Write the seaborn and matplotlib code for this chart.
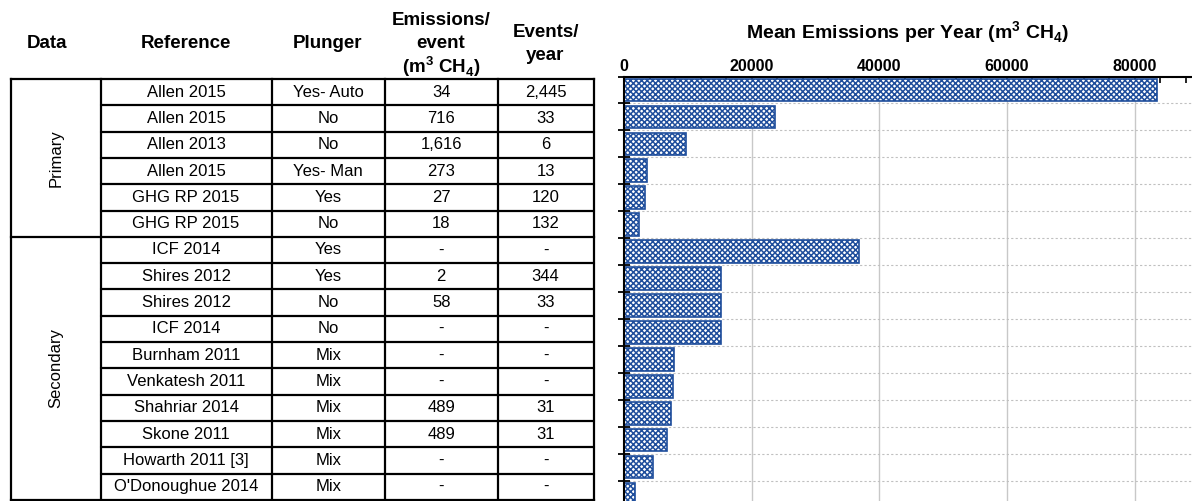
import numpy as np
import pandas as pd
import matplotlib
matplotlib.use("Agg")
import matplotlib.pyplot as plt
from matplotlib.ticker import MultipleLocator, FixedLocator
import seaborn as sns

# table contents
data_groups = ["Primary", "Secondary"]
group_sizes = [6, 10]
references = ["Allen 2015", "Allen 2015", "Allen 2013", "Allen 2015", "GHG RP 2015", "GHG RP 2015",
              "ICF 2014", "Shires 2012", "Shires 2012", "ICF 2014", "Burnham 2011", "Venkatesh 2011",
              "Shahriar 2014", "Skone 2011", "Howarth 2011 [3]", "O'Donoughue 2014"]
plungers = ["Yes- Auto", "No", "No", "Yes- Man", "Yes", "No",
            "Yes", "Yes", "No", "No", "Mix", "Mix", "Mix", "Mix", "Mix", "Mix"]
emis_per_event = ["34", "716", "1,616", "273", "27", "18",
                  "-", "2", "58", "-", "-", "-", "489", "489", "-", "-"]
events_per_year = ["2,445", "33", "6", "13", "120", "132",
                   "-", "344", "33", "-", "-", "-", "31", "31", "-", "-"]

# bar values (m3 CH4 per year)
mean_emis_year = [83500, 23600, 9650, 3600, 3250, 2400,
                  36900, 15250, 15150, 15150, 7900, 7700, 7400, 6800, 4600, 1800]

sns.set_style("white")
plt.rcParams['font.family'] = ['Liberation Sans', 'DejaVu Sans']
plt.rcParams['mathtext.fontset'] = 'custom'
plt.rcParams['mathtext.rm'] = 'Liberation Sans'
plt.rcParams['mathtext.bf'] = 'Liberation Sans:bold'
plt.rcParams['hatch.linewidth'] = 1.1
for k in ['text.color', 'axes.labelcolor', 'xtick.color', 'ytick.color']:
    plt.rcParams[k] = 'black'

W, H = 1192, 501
fig = plt.figure(figsize=(W / 100, H / 100), dpi=100)

# ---- table drawn in pixel coordinates ----
tab = fig.add_axes([0, 0, 1, 1])
tab.set_xlim(0, W)
tab.set_ylim(H, 0)
tab.axis('off')

col_x = [11, 100.5, 271.5, 385, 497.5, 593.5]
top, pitch = 79, 26.3
n_rows = len(references)
bottom = top + pitch * n_rows
lw = 1.6

for x in col_x:
    tab.plot([x, x], [top, bottom], color='black', lw=lw, solid_capstyle='projecting')
# full-width lines: top, group split, bottom
split = top + pitch * group_sizes[0]
for y in [top, split, bottom]:
    tab.plot([col_x[0], col_x[-1]], [y, y], color='black', lw=lw, solid_capstyle='projecting')
for i in range(1, n_rows):
    if i == group_sizes[0]:
        continue
    y = top + pitch * i
    tab.plot([col_x[1], col_x[-1]], [y, y], color='black', lw=lw)

# headers
hdr = dict(ha='center', va='center', fontsize=13.5, fontweight='bold')
tab.text(47, 43, "Data", **hdr)
tab.text(186, 43, "Reference", **hdr)
tab.text(328, 43, "Plunger", **hdr)
tab.text(441, 20, "Emissions/", **hdr)
tab.text(441, 43, "event", **hdr)
tab.text(441, 67, r"(m$^{\mathbf{3}}$ CH$_{\mathbf{4}}$)", **hdr)
tab.text(545.5, 32, "Events/", **hdr)
tab.text(545.5, 55, "year", **hdr)

# body
body = dict(ha='center', va='center', fontsize=12)
centers = [(col_x[1] + col_x[2]) / 2, (col_x[2] + col_x[3]) / 2,
           (col_x[3] + col_x[4]) / 2, (col_x[4] + col_x[5]) / 2]
for i in range(n_rows):
    y = top + pitch * (i + 0.5)
    for cx, col in zip(centers, [references, plungers, emis_per_event, events_per_year]):
        tab.text(cx, y, col[i], **body)

start = 0
for g, n in zip(data_groups, group_sizes):
    yc = top + pitch * (start + n / 2)
    tab.text(56, yc, g, rotation=90, **body)
    start += n

# ---- bar chart ----
x0, x1 = 624, W
y_top, y_bot = 76.5, 507.5
ax = fig.add_axes([x0 / W, (H - y_bot) / H, (x1 - x0) / W, (y_bot - y_top) / H])

df = pd.DataFrame({"row": [str(i) for i in range(n_rows)], "emis": mean_emis_year})
sns.barplot(data=df, x="emis", y="row", orient="h", color="white", width=0.84, ax=ax)
for p in ax.patches:
    p.set_facecolor('white')
    p.set_edgecolor('#1F4E9C')
    p.set_hatch('x' * 6)
    p.set_linewidth(1.2)

ax.set_xlim(0, 89000)
ax.set_ylim(n_rows - 0.5, -0.5)
ax.set_xlabel("")
ax.set_ylabel("")

ax.xaxis.tick_top()
ax.xaxis.set_major_locator(FixedLocator([0, 20000, 40000, 60000, 80000]))
ax.xaxis.set_minor_locator(MultipleLocator(4000))
ax.set_xticklabels(["0", "20000", "40000", "60000", "80000"], fontweight='bold', fontsize=11.5)
ax.tick_params(axis='x', which='both', direction='in', length=4, width=1.2, color='black',
               top=True, bottom=False, labeltop=True, labelbottom=False, pad=2)

ax.set_yticks([])
ax.yaxis.set_minor_locator(FixedLocator(np.arange(-0.5, n_rows, 1)))
ax.tick_params(axis='y', which='minor', direction='inout', length=9, width=1.3, color='black', left=True)

ax.grid(False)
ax.xaxis.grid(True, which='major', color='#c8c8c8', lw=1.0, ls='-')
ax.yaxis.grid(True, which='minor', color='#c0c0c0', lw=0.8, ls=(0, (2, 2)))
ax.set_axisbelow(True)

for s in ['right', 'bottom']:
    ax.spines[s].set_visible(False)
for s in ['left', 'top']:
    ax.spines[s].set_color('black')
    ax.spines[s].set_linewidth(1.5)

fig.text((x0 + x1) / 2 / W, 1 - 33 / H, r"Mean Emissions per Year (m$^{\mathbf{3}}$ CH$_{\mathbf{4}}$)",
         ha='center', va='center', fontsize=14, fontweight='bold')

fig.savefig("out.png", dpi=100)
